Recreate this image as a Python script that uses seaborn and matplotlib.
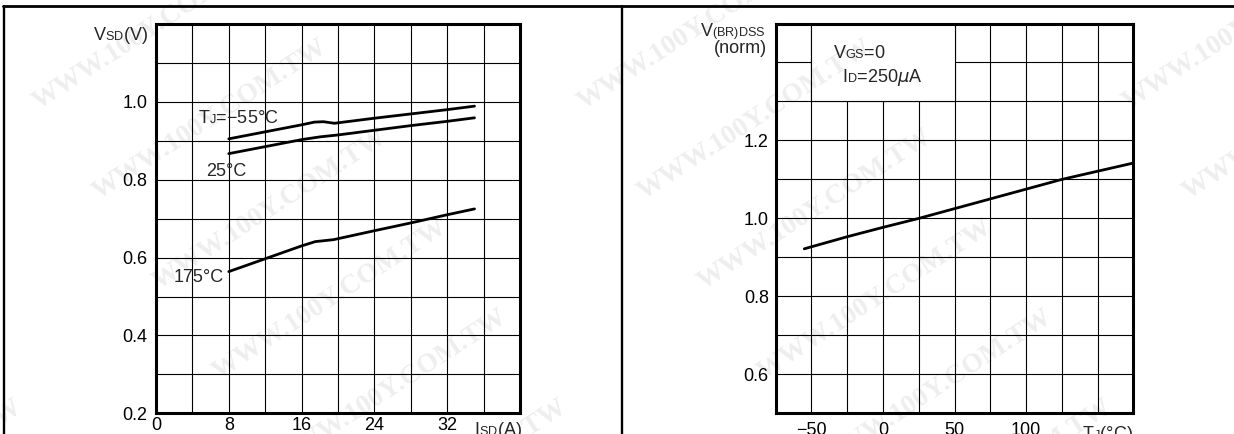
import numpy as np
import pandas as pd
import matplotlib
matplotlib.use("Agg")
import matplotlib.pyplot as plt
import seaborn as sns
from matplotlib.lines import Line2D
from matplotlib.patches import Rectangle

# Small-cap style subscripts: keep them sitting on the baseline
try:
    from matplotlib import _mathtext
    _mathtext.FontConstantsBase.subdrop = 0.0
    _mathtext.FontConstantsBase.sub1 = 0.0
except Exception:
    pass

# ---- data: source-drain diode forward voltage vs. current ----
isd_m55 = [8, 12, 16, 17.4, 18.4, 19.6, 24, 28, 32, 35]
vsd_m55 = [0.905, 0.923, 0.941, 0.948, 0.949, 0.945, 0.958, 0.969, 0.980, 0.989]
isd_25 = [8, 12, 16, 18, 20, 24, 28, 32, 35]
vsd_25 = [0.867, 0.885, 0.903, 0.910, 0.915, 0.927, 0.939, 0.950, 0.959]
isd_175 = [8, 12, 16, 17.5, 19.5, 24, 28, 32, 35]
vsd_175 = [0.564, 0.597, 0.630, 0.641, 0.646, 0.669, 0.689, 0.710, 0.725]

# ---- data: normalised breakdown voltage vs. junction temperature ----
tj = [-55, -25, 0, 25, 50, 75, 100, 125, 150, 175]
vbr_norm = [0.922, 0.953, 0.977, 1.000, 1.025, 1.050, 1.075, 1.100, 1.121, 1.142]

isd_ticks = [0, 4, 8, 12, 16, 20, 24, 28, 32, 36, 40]
isd_ticklabels = ["0", "", "8", "", "16", "", "24", "", "32", "", ""]
vsd_ticks = [0.2, 0.3, 0.4, 0.5, 0.6, 0.7, 0.8, 0.9, 1.0, 1.1, 1.2]
vsd_ticklabels = ["0.2", "", "0.4", "", "0.6", "", "0.8", "", "1.0", "", ""]
tj_ticks = [-75, -50, -25, 0, 25, 50, 75, 100, 125, 150, 175]
tj_ticklabels = ["", "\u221250", "", "0", "", "50", "", "100", "", "", ""]
vbr_ticks = [0.5, 0.6, 0.7, 0.8, 0.9, 1.0, 1.1, 1.2, 1.3, 1.4, 1.5]
vbr_ticklabels = ["", "0.6", "", "0.8", "", "1.0", "", "1.2", "", "", ""]

sns.set_style("white")
plt.rcParams["font.family"] = ["Liberation Sans", "DejaVu Sans"]
plt.rcParams["mathtext.fontset"] = "dejavusans"

W, H = 1234, 434
fig = plt.figure(figsize=(W / 100, H / 100), dpi=100)
fig.patch.set_facecolor("white")

ax1 = fig.add_axes([156 / W, (H - 413.3) / H, 364 / W, 389.3 / H])
ax2 = fig.add_axes([775.7 / W, (H - 413.3) / H, 357.6 / W, 389.8 / H])

FS = 13
GRID_LW = 0.8
SPINE_LW = 2.2
CURVE_LW = 2.0


def style_axes(ax, xticks, xlabels, yticks, ylabels, xpad, ypad):
    ax.set_facecolor("white")
    ax.set_xticks(xticks)
    ax.set_xticklabels(xlabels)
    ax.set_yticks(yticks)
    ax.set_yticklabels(ylabels)
    ax.grid(True, color="black", lw=GRID_LW)
    ax.set_axisbelow(True)
    ax.tick_params(axis="x", length=0, labelsize=FS, pad=xpad, colors="black")
    ax.tick_params(axis="y", length=0, labelsize=FS, pad=ypad, colors="black")
    for sp in ax.spines.values():
        sp.set_visible(True)
        sp.set_color("black")
        sp.set_linewidth(SPINE_LW)
    ax.set_xlabel("")
    ax.set_ylabel("")


def side_label(ax, text, y, dx):
    ax.annotate(text, xy=(0, y), xycoords=("axes fraction", "data"),
                xytext=(dx, 0), textcoords="offset pixels", ha="right",
                va="baseline", fontsize=FS, annotation_clip=False)


# ---- left panel ----
df_vsd = pd.concat([
    pd.DataFrame({"Isd": isd_m55, "Vsd": vsd_m55, "Tj": "-55"}),
    pd.DataFrame({"Isd": isd_25, "Vsd": vsd_25, "Tj": "25"}),
    pd.DataFrame({"Isd": isd_175, "Vsd": vsd_175, "Tj": "175"}),
])
sns.lineplot(data=df_vsd, x="Isd", y="Vsd", hue="Tj", units="Tj",
             estimator=None, sort=False, legend=False, lw=CURVE_LW,
             palette={"-55": "black", "25": "black", "175": "black"}, ax=ax1)
ax1.set_xlim(0, 40)
ax1.set_ylim(0.2, 1.2)
style_axes(ax1, isd_ticks, isd_ticklabels, vsd_ticks, vsd_ticklabels, 3.0, 6)

ax1.text(4.6, 0.946, "T$_\\mathregular{J}$=\u221255°C", fontsize=FS, ha="left", va="baseline")
ax1.text(5.5, 0.810, "25°C", fontsize=FS, ha="left", va="baseline")
ax1.text(1.9, 0.538, "175°C", fontsize=FS, ha="left", va="baseline")
side_label(ax1, "V$_\\mathregular{SD}$(V)", 1.159, -8)
ax1.annotate("I$_\\mathregular{SD}$(A)", xy=(1, 0), xycoords="axes fraction",
             xytext=(2, -7), textcoords="offset pixels", ha="right", va="top",
             fontsize=FS, annotation_clip=False)

# ---- right panel ----
df_vbr = pd.DataFrame({"Tj": tj, "Vbr": vbr_norm})
sns.lineplot(data=df_vbr, x="Tj", y="Vbr", color="black", lw=CURVE_LW,
             estimator=None, sort=False, ax=ax2)
ax2.set_xlim(-75, 175)
ax2.set_ylim(0.5, 1.5)
style_axes(ax2, tj_ticks, tj_ticklabels, vbr_ticks, vbr_ticklabels, 6.5, 5)

ax2.add_patch(Rectangle((-50, 1.3), 100, 0.2, facecolor="white",
                        edgecolor="black", lw=GRID_LW, zorder=1))
ax2.text(-35, 1.411, "V$_\\mathregular{GS}$=0", fontsize=FS, ha="left", va="baseline", zorder=4)
ax2.text(-28.8, 1.351, "I$_\\mathregular{D}$=250$\\mu$A", fontsize=FS, ha="left",
         va="baseline", zorder=4)
side_label(ax2, "V$_\\mathregular{(BR)DSS}$", 1.465, -10)
side_label(ax2, "(norm)", 1.424, -9)
ax2.annotate("T$_\\mathregular{J}$(°C)", xy=(1, 0), xycoords="axes fraction",
             xytext=(0, -11), textcoords="offset pixels", ha="right", va="top",
             fontsize=FS, annotation_clip=False)

# ---- page frame ----
fig.add_artist(Line2D([2.5 / W, 1], [1 - 6.2 / H, 1 - 6.2 / H], color="black", lw=2.0))
fig.add_artist(Line2D([3.8 / W, 3.8 / W], [0, 1 - 6.2 / H], color="black", lw=1.7))
fig.add_artist(Line2D([621.7 / W, 621.7 / W], [0, 1 - 6.2 / H], color="black", lw=1.7))

# ---- faint site watermark ----
for col in range(-1, 3):
    for row in range(-2, 7):
        cx = 150 + col * 545 + row * 60
        cy = 30 + row * 90
        if -150 < cx < W + 150 and -60 < cy < H + 60:
            fig.text(cx / W, 1 - cy / H, "WWW.100Y.COM.TW", rotation=33,
                     ha="center", va="center", fontsize=20, fontweight="bold",
                     family="Liberation Serif", color="black", alpha=0.07,
                     zorder=10)

fig.savefig("out.png", dpi=100)
